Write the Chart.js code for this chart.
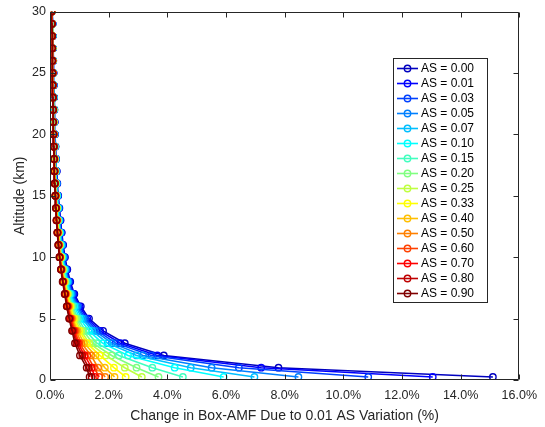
<!DOCTYPE html>
<html>
<head>
<meta charset="utf-8">
<script src="https://cdn.jsdelivr.net/npm/chart.js@4.4.1/dist/chart.umd.min.js"></script>
<style>
  html, body { margin: 0; padding: 0; background: #ffffff; }
  #wrap { width: 545px; height: 427px; }
</style>
</head>
<body>
<div id="wrap"><canvas id="c" width="545" height="427"></canvas></div>
<script>
// Altitude grid of the Box-AMF profiles (km)
const altitudes = [0.25, 1, 2, 3, 4, 5, 6, 7, 8, 9, 10, 11, 12, 13, 14, 15,
  16, 17, 18, 19, 20, 21, 22, 23, 24, 25, 26, 27, 28, 29, 30];

// Surface albedo (AS) of each profile
const asLabels = ['0.00', '0.01', '0.03', '0.05', '0.07', '0.10', '0.15', '0.20',
  '0.25', '0.33', '0.40', '0.50', '0.60', '0.70', '0.80', '0.90'];

// Change in Box-AMF (%) for a 0.01 AS step, listed from the lowest to the highest altitude
const as000 = [15.10, 7.79, 3.88, 2.55, 1.81, 1.33, 1.05, 0.83, 0.69, 0.59, 0.51, 0.45, 0.40, 0.36, 0.32, 0.28, 0.25, 0.23, 0.21, 0.19, 0.17, 0.16, 0.150, 0.140, 0.130, 0.121, 0.112, 0.104, 0.096, 0.089, 0.070];
const as001 = [13.05, 7.20, 3.66, 2.40, 1.71, 1.27, 1.01, 0.80, 0.67, 0.57, 0.49, 0.43, 0.39, 0.35, 0.31, 0.27, 0.24, 0.22, 0.20, 0.18, 0.17, 0.16, 0.146, 0.136, 0.127, 0.118, 0.109, 0.101, 0.094, 0.087, 0.068];
const as003 = [10.85, 6.44, 3.46, 2.24, 1.62, 1.21, 0.96, 0.77, 0.64, 0.55, 0.48, 0.42, 0.37, 0.33, 0.30, 0.26, 0.23, 0.22, 0.20, 0.18, 0.16, 0.15, 0.142, 0.132, 0.123, 0.115, 0.106, 0.099, 0.091, 0.085, 0.066];
const as005 = [8.47, 5.51, 3.17, 2.11, 1.53, 1.15, 0.93, 0.74, 0.62, 0.53, 0.46, 0.41, 0.36, 0.32, 0.29, 0.25, 0.23, 0.21, 0.19, 0.17, 0.16, 0.15, 0.138, 0.129, 0.120, 0.112, 0.104, 0.096, 0.089, 0.083, 0.065];
const as007 = [6.97, 4.80, 2.95, 1.96, 1.44, 1.09, 0.88, 0.71, 0.60, 0.51, 0.44, 0.39, 0.35, 0.31, 0.28, 0.25, 0.22, 0.20, 0.19, 0.17, 0.15, 0.14, 0.134, 0.125, 0.117, 0.109, 0.101, 0.094, 0.087, 0.081, 0.063];
const as010 = [5.92, 4.25, 2.66, 1.79, 1.33, 1.02, 0.83, 0.68, 0.57, 0.49, 0.42, 0.37, 0.33, 0.30, 0.27, 0.24, 0.21, 0.19, 0.18, 0.16, 0.15, 0.14, 0.130, 0.121, 0.113, 0.105, 0.098, 0.091, 0.084, 0.078, 0.061];
const as015 = [4.53, 3.49, 2.35, 1.60, 1.22, 0.95, 0.78, 0.65, 0.54, 0.47, 0.40, 0.35, 0.32, 0.28, 0.25, 0.22, 0.20, 0.19, 0.17, 0.16, 0.14, 0.13, 0.125, 0.116, 0.109, 0.101, 0.094, 0.088, 0.081, 0.076, 0.059];
const as020 = [3.70, 2.95, 2.10, 1.46, 1.13, 0.90, 0.74, 0.62, 0.52, 0.45, 0.39, 0.34, 0.30, 0.27, 0.24, 0.22, 0.19, 0.18, 0.17, 0.15, 0.14, 0.13, 0.121, 0.113, 0.106, 0.099, 0.092, 0.085, 0.079, 0.074, 0.057];
const as025 = [3.13, 2.55, 1.90, 1.34, 1.06, 0.85, 0.71, 0.60, 0.51, 0.43, 0.38, 0.33, 0.29, 0.26, 0.23, 0.21, 0.19, 0.17, 0.16, 0.15, 0.13, 0.12, 0.118, 0.110, 0.103, 0.096, 0.089, 0.083, 0.078, 0.072, 0.056];
const as033 = [2.58, 2.18, 1.70, 1.26, 1.00, 0.81, 0.69, 0.58, 0.49, 0.42, 0.37, 0.32, 0.29, 0.25, 0.23, 0.20, 0.18, 0.17, 0.16, 0.14, 0.13, 0.12, 0.116, 0.108, 0.101, 0.094, 0.088, 0.082, 0.076, 0.071, 0.055];
const as040 = [2.20, 1.87, 1.55, 1.16, 0.94, 0.77, 0.66, 0.56, 0.48, 0.41, 0.35, 0.31, 0.28, 0.25, 0.22, 0.20, 0.18, 0.16, 0.15, 0.14, 0.13, 0.12, 0.113, 0.106, 0.099, 0.092, 0.086, 0.080, 0.075, 0.069, 0.054];
const as050 = [1.88, 1.64, 1.40, 1.07, 0.89, 0.74, 0.63, 0.54, 0.46, 0.40, 0.34, 0.30, 0.27, 0.24, 0.22, 0.19, 0.17, 0.16, 0.15, 0.14, 0.13, 0.12, 0.111, 0.103, 0.097, 0.091, 0.084, 0.079, 0.073, 0.068, 0.053];
const as060 = [1.68, 1.50, 1.27, 1.00, 0.85, 0.71, 0.61, 0.53, 0.45, 0.39, 0.34, 0.30, 0.26, 0.23, 0.21, 0.19, 0.17, 0.16, 0.15, 0.14, 0.12, 0.11, 0.109, 0.102, 0.095, 0.089, 0.083, 0.078, 0.072, 0.067, 0.052];
const as070 = [1.53, 1.42, 1.18, 0.95, 0.81, 0.69, 0.60, 0.52, 0.45, 0.38, 0.33, 0.29, 0.26, 0.23, 0.21, 0.19, 0.17, 0.15, 0.14, 0.13, 0.12, 0.11, 0.108, 0.101, 0.094, 0.088, 0.082, 0.077, 0.072, 0.066, 0.051];
const as080 = [1.42, 1.32, 1.10, 0.90, 0.78, 0.67, 0.58, 0.51, 0.44, 0.38, 0.33, 0.29, 0.25, 0.22, 0.20, 0.18, 0.16, 0.15, 0.14, 0.13, 0.12, 0.11, 0.106, 0.099, 0.093, 0.087, 0.081, 0.076, 0.071, 0.066, 0.051];
const as090 = [1.35, 1.25, 1.02, 0.85, 0.75, 0.65, 0.57, 0.50, 0.43, 0.37, 0.32, 0.28, 0.25, 0.22, 0.20, 0.18, 0.16, 0.15, 0.14, 0.13, 0.12, 0.11, 0.105, 0.098, 0.092, 0.086, 0.080, 0.075, 0.070, 0.065, 0.050];

const seriesValues = [as000, as001, as003, as005, as007, as010, as015, as020,
  as025, as033, as040, as050, as060, as070, as080, as090];

// Axis ticks
const xTicks = [0, 2, 4, 6, 8, 10, 12, 14, 16];
const yTicks = [0, 5, 10, 15, 20, 25, 30];

// Jet colour ramp, one colour per albedo
const seriesColors = [
  'rgb(0,0,191)', 'rgb(0,0,255)', 'rgb(0,64,255)', 'rgb(0,128,255)',
  'rgb(0,191,255)', 'rgb(0,255,255)', 'rgb(64,255,191)', 'rgb(128,255,128)',
  'rgb(191,255,64)', 'rgb(255,255,0)', 'rgb(255,191,0)', 'rgb(255,128,0)',
  'rgb(255,64,0)', 'rgb(255,0,0)', 'rgb(191,0,0)', 'rgb(128,0,0)'
];

const FONT = '"Liberation Sans", Arial, Helvetica, sans-serif';
const AXIS_COLOR = '#262626';

const datasets = seriesValues.map((vals, i) => ({
  label: 'AS = ' + asLabels[i],
  data: vals.map((v, k) => ({ x: v, y: altitudes[k] })),
  showLine: true,
  borderColor: seriesColors[i],
  backgroundColor: 'rgba(0,0,0,0)',
  borderWidth: 1.6,
  pointRadius: 3.2,
  pointBorderWidth: 1.4,
  pointBorderColor: seriesColors[i],
  pointBackgroundColor: 'rgba(0,0,0,0)',
  tension: 0,
  // higher albedo profiles are painted over the lower ones
  order: seriesValues.length - 1 - i
}));

// Box frame with inward ticks on all four sides
const framePlugin = {
  id: 'frame',
  afterDatasetsDraw(chart) {
    const { ctx, chartArea: a, scales } = chart;
    ctx.save();
    ctx.strokeStyle = AXIS_COLOR;
    ctx.lineWidth = 1;
    const L = Math.round(a.left) + 0.5, R = Math.round(a.right) - 0.5;
    const T = Math.round(a.top) + 0.5, B = Math.round(a.bottom) - 0.5;
    ctx.beginPath();
    ctx.rect(L, T, R - L, B - T);
    const tl = 5;
    xTicks.forEach(v => {
      const px = Math.round(scales.x.getPixelForValue(v)) + 0.5;
      ctx.moveTo(px, B); ctx.lineTo(px, B - tl);
      ctx.moveTo(px, T); ctx.lineTo(px, T + tl);
    });
    yTicks.forEach(v => {
      const py = Math.round(scales.y.getPixelForValue(v)) + 0.5;
      ctx.moveTo(L, py); ctx.lineTo(L + tl, py);
      ctx.moveTo(R, py); ctx.lineTo(R - tl, py);
    });
    ctx.stroke();
    ctx.restore();
  }
};

// Legend box inside the plot, one row per albedo
const legendPlugin = {
  id: 'boxLegend',
  afterDraw(chart) {
    const { ctx } = chart;
    const x0 = 393.5, y0 = 58.5, w = 94, h = 244;
    ctx.save();
    ctx.fillStyle = '#ffffff';
    ctx.fillRect(x0, y0, w, h);
    ctx.strokeStyle = '#262626';
    ctx.lineWidth = 1;
    ctx.strokeRect(x0, y0, w, h);
    ctx.font = '12px ' + FONT;
    ctx.textBaseline = 'middle';
    ctx.textAlign = 'left';
    chart.data.datasets.forEach((ds, i) => {
      const y = 68.5 + i * 15;
      ctx.strokeStyle = ds.borderColor;
      ctx.lineWidth = 1.6;
      ctx.beginPath();
      ctx.moveTo(397, y); ctx.lineTo(418, y);
      ctx.stroke();
      ctx.lineWidth = 1.4;
      ctx.beginPath();
      ctx.arc(407.5, y, 3.2, 0, Math.PI * 2);
      ctx.stroke();
      ctx.fillStyle = '#000000';
      ctx.fillText(ds.label, 421, y + 0.5);
    });
    ctx.restore();
  }
};

new Chart(document.getElementById('c'), {
  type: 'scatter',
  data: { datasets },
  options: {
    responsive: false,
    animation: false,
    devicePixelRatio: 1,
    layout: { padding: { top: 11, right: 25, left: 0, bottom: 0 } },
    plugins: { legend: { display: false }, tooltip: { enabled: false } },
    scales: {
      x: {
        type: 'linear',
        min: 0, max: 16,
        afterFit(scale) { scale.height = 47; },
        afterBuildTicks(scale) { scale.ticks = xTicks.map(v => ({ value: v })); },
        grid: { display: false, drawTicks: false },
        border: { display: false },
        ticks: {
          color: AXIS_COLOR,
          font: { family: FONT, size: 12.5 },
          padding: 8,
          maxRotation: 0,
          callback: v => v.toFixed(1) + '%'
        },
        title: {
          display: true,
          text: 'Change in Box-AMF Due to 0.01 AS Variation (%)',
          color: AXIS_COLOR,
          font: { family: FONT, size: 14 },
          padding: { top: 0, bottom: 2.5 }
        }
      },
      y: {
        type: 'linear',
        min: 0, max: 30,
        afterFit(scale) { scale.width = 50; },
        afterBuildTicks(scale) { scale.ticks = yTicks.map(v => ({ value: v })); },
        grid: { display: false, drawTicks: false },
        border: { display: false },
        ticks: {
          color: AXIS_COLOR,
          font: { family: FONT, size: 12.5 },
          padding: 4
        },
        title: {
          display: true,
          text: 'Altitude (km)',
          color: AXIS_COLOR,
          font: { family: FONT, size: 14 },
          padding: { top: 11.5, bottom: 0 }
        }
      }
    }
  },
  plugins: [framePlugin, legendPlugin]
});
</script>
</body>
</html>
